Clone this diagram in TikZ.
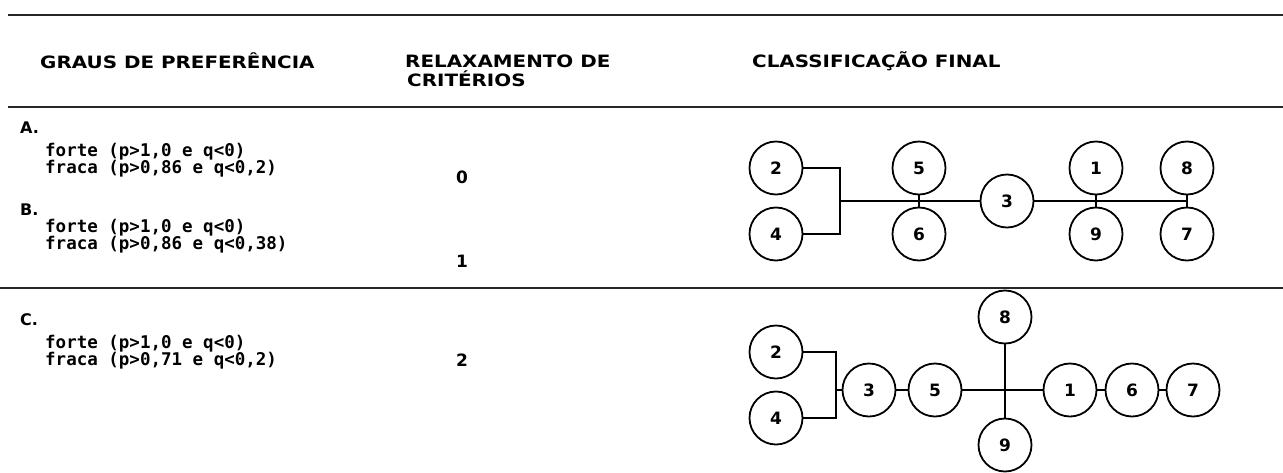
\documentclass[tikz,border=0pt]{standalone}
\usepackage{fontspec}
\setmainfont{DejaVu Sans}
\newfontfamily\monob{DejaVu Sans Mono}
\usepackage{graphicx}
\tikzset{
  rule/.style={line width=2.2pt, black!85},
  hdr/.style={anchor=west, inner sep=0pt, font=\fontsize{17}{17}\selectfont\bfseries},
  crit/.style={anchor=west, inner sep=0pt, font=\monob\fontsize{17.5}{17.5}\selectfont\bfseries},
  lbl/.style={anchor=west, inner sep=0pt, font=\fontsize{16}{16}\selectfont\bfseries},
  val/.style={inner sep=0pt, font=\fontsize{17}{17}\selectfont\bfseries},
  nd/.style={circle, draw, line width=1.8pt, minimum size=53pt, inner sep=0pt, font=\fontsize{17}{17}\selectfont\bfseries},
  link/.style={line width=1.7pt},
}
\newcommand{\hwide}[1]{\scalebox{1.17}[1]{#1}}
\begin{document}
\begin{tikzpicture}[x=1pt,y=-1pt]
\fill[white] (0,0) rectangle (1283,472);
\useasboundingbox (0,0) rectangle (1283,472);
% rules
\coordinate (r1a) at (8,15);   \coordinate (r1b) at (1283,15);
\coordinate (r2a) at (8,107);  \coordinate (r2b) at (1283,107);
\coordinate (r3a) at (0,288);  \coordinate (r3b) at (1283,288);
\draw[rule] (r1a) -- (r1b);
\draw[rule] (r2a) -- (r2b);
\draw[rule] (r3a) -- (r3b);
% headers
\node[hdr] (h1) at (40,61) {\hwide{GRAUS DE PREFERÊNCIA}};
\node[hdr] (h2) at (405,61) {\hwide{RELAXAMENTO DE}};
\node[hdr] (h2b) at (407,79) {\hwide{CRITÉRIOS}};
\node[hdr] (h3) at (752,61) {\hwide{CLASSIFICAÇÃO FINAL}};
% row A
\node[lbl] (la) at (20,128) {A.};
\node[crit] (fa1) at (45,152) {forte (p>1,0 e q<0)};
\node[crit] (fa2) at (45,169) {fraca (p>0,86 e q<0,2)};
\node[val] (va) at (462,177) {0};
% row B
\node[lbl] (lb) at (20,210) {B.};
\node[crit] (fb1) at (45,228) {forte (p>1,0 e q<0)};
\node[crit] (fb2) at (45,245) {fraca (p>0,86 e q<0,38)};
\node[val] (vb) at (462,261) {1};
% row C
\node[lbl] (lc) at (20,320) {C.};
\node[crit] (fc1) at (45,344) {forte (p>1,0 e q<0)};
\node[crit] (fc2) at (45,361) {fraca (p>0,71 e q<0,2)};
\node[val] (vc) at (462,360) {2};
% diagram A/B
\node[nd] (a2) at (776,168) {2};
\node[nd] (a4) at (776,234) {4};
\node[nd] (a5) at (919,168) {5};
\node[nd] (a6) at (919,234) {6};
\node[nd] (a3) at (1007,201) {3};
\node[nd] (a1) at (1096,168) {1};
\node[nd] (a9) at (1096,234) {9};
\node[nd] (a8) at (1187,168) {8};
\node[nd] (a7) at (1187,234) {7};
\coordinate (abr) at (840,201);
\coordinate (aend) at (1187,201);
\draw[link] (a2.east) -| (abr) |- (a4.east);
\draw[link] (abr) -- (a3.west);
\draw[link] (a5) -- (a6);
\draw[link] (a3.east) -- (aend);
\draw[link] (a1) -- (a9);
\draw[link] (a8) -- (a7);
% diagram C
\node[nd] (c2) at (776,352) {2};
\node[nd] (c4) at (776,418) {4};
\node[nd] (c3) at (869,390) {3};
\node[nd] (c5) at (935,390) {5};
\node[nd] (c8) at (1005,317) {8};
\node[nd] (c9) at (1005,445) {9};
\node[nd] (c1) at (1070,390) {1};
\node[nd] (c6) at (1132,390) {6};
\node[nd] (c7) at (1193,390) {7};
\coordinate (cbr) at (836,390);
\draw[link] (c2.east) -| (cbr) |- (c4.east);
\draw[link] (cbr) -- (c3.west);
\draw[link] (c3) -- (c5);
\draw[link] (c5) -- (c1);
\draw[link] (c8) -- (c9);
\draw[link] (c1) -- (c6);
\draw[link] (c6) -- (c7);
\end{tikzpicture}
\end{document}
